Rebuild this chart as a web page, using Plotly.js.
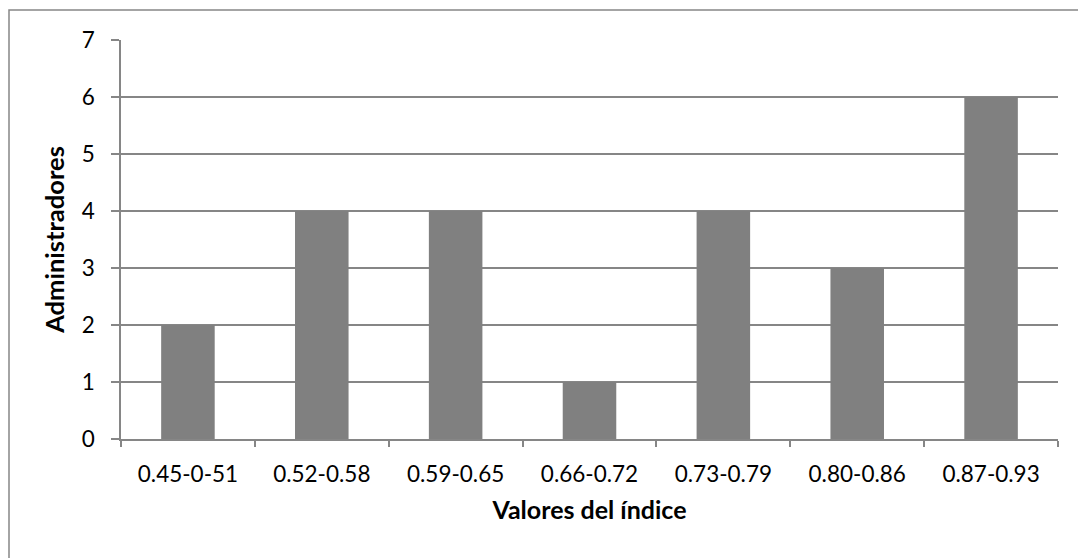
<!DOCTYPE html>
<html>
<head>
<meta charset="utf-8">
<script src="https://cdn.plot.ly/plotly-3.0.1.min.js"></script>
<style>html,body{margin:0;padding:0;background:#fff;}#chart{width:1078px;height:558px;}</style>
</head>
<body>
<div id="chart"></div>
<script>
var categories = ["0.45-0-51", "0.52-0.58", "0.59-0.65", "0.66-0.72", "0.73-0.79", "0.80-0.86", "0.87-0.93"];
var administradores = [2, 4, 4, 1, 4, 3, 6];
var xTitle = "Valores del índice";
var yTitle = "Administradores";

var gridColor = "#868686";
var fontFam = "Lato, 'Open Sans', sans-serif";

var data = [{
  type: "bar",
  x: categories,
  y: administradores,
  marker: {color: "#808080"},
  hoverinfo: "x+y"
}];

var layout = {
  width: 1078, height: 558,
  margin: {l: 121, r: 20, t: 40, b: 119},
  paper_bgcolor: "#fff", plot_bgcolor: "#fff",
  bargap: 0.6,
  showlegend: false,
  font: {family: fontFam, size: 22.5, color: "#000"},
  xaxis: {
    type: "category",
    tickson: "boundaries",
    ticks: "outside", ticklen: 6, tickcolor: gridColor, tickwidth: 1.5,
    showline: true, linecolor: gridColor, linewidth: 1.5,
    showgrid: false,
    tickfont: {family: fontFam, size: 22.5, color: "#000"},
    ticklabelstandoff: 14,
    title: {text: xTitle, font: {family: fontFam, size: 25, color: "#000", weight: "bold"}, standoff: 16},
    automargin: false
  },
  yaxis: {
    range: [0, 7], dtick: 1,
    ticks: "outside", ticklen: 8, tickcolor: gridColor, tickwidth: 1.5,
    showline: true, linecolor: gridColor, linewidth: 1.5,
    showgrid: true, gridcolor: gridColor, gridwidth: 1.5,
    zeroline: false,
    tickfont: {family: fontFam, size: 22.5, color: "#000"},
    ticklabelstandoff: 12,
    title: {text: yTitle, font: {family: fontFam, size: 25.5, color: "#000", weight: "bold"}, standoff: 10},
    automargin: false
  },
  shapes: [{
    type: "rect", xref: "paper", yref: "paper",
    x0: (9 - 121) / 937, x1: 1.1,
    y0: -0.5, y1: (439 - 10) / 399,
    line: {color: gridColor, width: 1.5},
    fillcolor: "rgba(0,0,0,0)",
    layer: "below"
  }]
};

Plotly.newPlot("chart", data, layout, {displayModeBar: false});
</script>
</body>
</html>
